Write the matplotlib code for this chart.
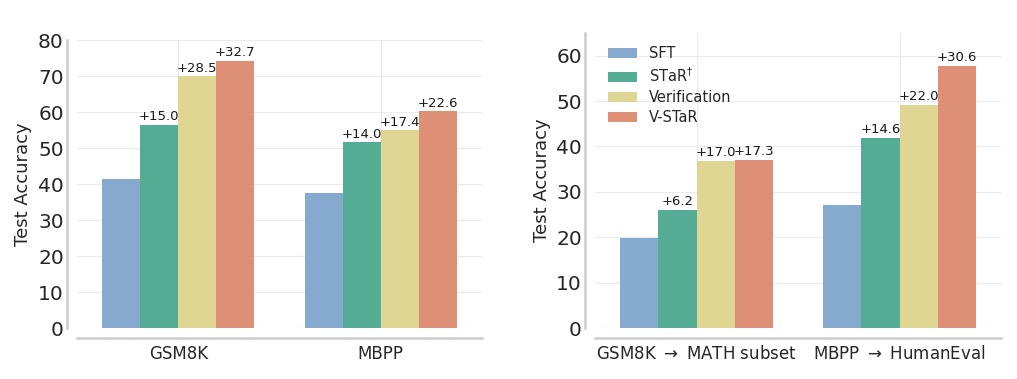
import matplotlib
matplotlib.use("Agg")
import matplotlib.pyplot as plt
import numpy as np
import seaborn as sns

methods = ["SFT", "STaR$^{\\dagger}$", "Verification", "V-STaR"]
colors = ["#86A9CE", "#54AC94", "#E0D694", "#DE9076"]

left_tasks = ["GSM8K", "MBPP"]
left_scores = {
    "SFT": [41.5, 37.6],
    "STaR": [56.5, 51.6],
    "Verification": [70.0, 55.0],
    "V-STaR": [74.2, 60.2],
}
left_gains = {
    "STaR": ["+15.0", "+14.0"],
    "Verification": ["+28.5", "+17.4"],
    "V-STaR": ["+32.7", "+22.6"],
}

right_tasks = ["GSM8K $\\rightarrow$ MATH subset", "MBPP $\\rightarrow$ HumanEval"]
right_scores = {
    "SFT": [19.8, 27.2],
    "STaR": [26.0, 41.8],
    "Verification": [36.8, 49.2],
    "V-STaR": [37.1, 57.8],
}
right_gains = {
    "STaR": ["+6.2", "+14.6"],
    "Verification": ["+17.0", "+22.0"],
    "V-STaR": ["+17.3", "+30.6"],
}

sns.set_style("whitegrid", {"grid.color": "#ebebeb", "axes.edgecolor": "#cccccc"})
plt.rcParams["font.family"] = ["DejaVu Sans"]

fig = plt.figure(figsize=(10.17, 3.79), dpi=100)
ax_left = fig.add_axes([77 / 1017, 51 / 379, 405 / 1017, 288 / 379])
ax_right = fig.add_axes([595 / 1017, 51 / 379, 406 / 1017, 295 / 379])

bar_width = 0.1875


def draw_panel(ax, tasks, scores, gains, ylim, yticks, show_legend):
    x = np.arange(len(tasks))
    keys = list(scores.keys())
    for i, key in enumerate(keys):
        offset = (i - 1.5) * bar_width
        bars = ax.bar(x + offset, scores[key], width=bar_width, color=colors[i],
                      linewidth=0, label=methods[i], zorder=2)
        if key in gains:
            for bar, text in zip(bars, gains[key]):
                ax.text(bar.get_x() + bar.get_width() / 2, bar.get_height() + 0.4,
                        text, ha="center", va="bottom", fontsize=9.5, color="#1a1a1a")
    ax.set_xlim(-0.5, len(tasks) - 0.5)
    ax.set_ylim(*ylim)
    ax.set_yticks(yticks)
    ax.set_xticks(x)
    ax.set_xticklabels(tasks)
    ax.tick_params(axis="y", labelsize=14.5, colors="#262626", pad=-1)
    ax.tick_params(axis="x", labelsize=12, colors="#262626", pad=2)
    ax.set_ylabel("Test Accuracy", fontsize=13, color="#262626", labelpad=4)
    ax.grid(True, color="#ebebeb", linewidth=0.8, zorder=0)
    ax.set_axisbelow(True)
    for side in ["left", "bottom"]:
        ax.spines[side].set_position(("outward", 7))
        ax.spines[side].set_linewidth(1.8)
        ax.spines[side].set_color("#cccccc")
    for side in ["top", "right"]:
        ax.spines[side].set_visible(False)
    if show_legend:
        ax.legend(loc="upper left", frameon=False, fontsize=10.5, handlelength=2.0,
                  handleheight=0.7, labelspacing=0.35, handletextpad=0.8,
                  bbox_to_anchor=(0.0, 1.0))


draw_panel(ax_left, left_tasks, left_scores, left_gains, (0, 80), range(0, 81, 10), False)
draw_panel(ax_right, right_tasks, right_scores, right_gains, (0, 65), range(0, 61, 10), True)

fig.savefig("out.png", dpi=100)
